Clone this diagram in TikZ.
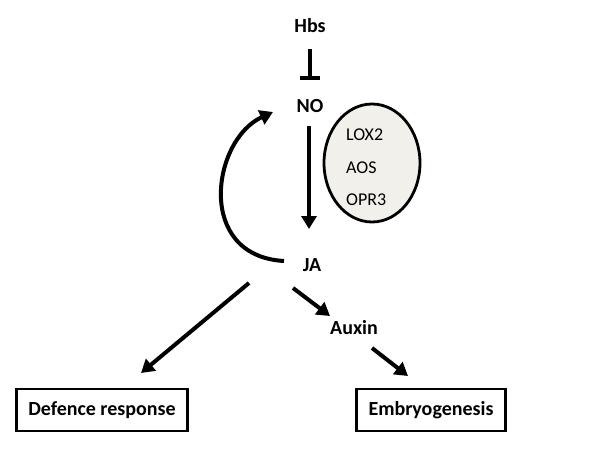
\documentclass[tikz,border=0pt]{standalone}
\usepackage{fontspec}
\setmainfont{Carlito}
\usetikzlibrary{arrows.meta,shapes.geometric}
\definecolor{ellfill}{HTML}{F2F0EA}
\begin{document}
\begin{tikzpicture}[x=1pt,y=-1pt,
  lbl/.style={font=\fontsize{20}{22}\selectfont\bfseries, inner sep=1pt},
  gene/.style={font=\fontsize{18}{20}\selectfont, anchor=west, inner sep=0pt},
  outbox/.style={draw, line width=2.6pt, minimum height=42pt, inner sep=0pt, font=\fontsize{20}{22}\selectfont\bfseries},
  arr/.style={line width=4pt, -{Triangle[length=13pt,width=15pt]}},
  inh/.style={line width=4pt, -{Bar[width=20pt,line width=4pt]}}]
\useasboundingbox (0,0) rectangle (607,450);
\node[lbl] (hbs) at (310,26) {Hbs};
\node[lbl] (no) at (310,106) {NO};
\node[lbl] (ja) at (312,265) {JA};
\node[lbl] (aux) at (354,328) {Auxin};
\node[outbox, minimum width=171pt] (def) at (102,410) {Defence response};
\node[outbox, minimum width=149pt] (emb) at (431,410) {Embryogenesis};
\node[draw, line width=2.8pt, fill=ellfill, ellipse, minimum width=96pt, minimum height=118pt, inner sep=0pt] (ell) at (372,163) {};
\node[gene] (lox) at (346,135) {LOX2};
\node[gene] (aos) at (346,168) {AOS};
\node[gene] (opr) at (346,200) {OPR3};
\coordinate (hbsb) at (310,49);
\coordinate (noT) at (310,80);
\draw[inh] (hbsb) -- (noT);
\coordinate (noB) at (309,126);
\coordinate (jaT) at (309,229);
\draw[arr] (noB) -- (jaT);
\coordinate (jaL) at (284,261);
\coordinate (noL) at (273,112);
\draw[arr] (jaL) .. controls (195,256) and (212,140) .. (noL);
\coordinate (ja1) at (249,283);
\coordinate (def1) at (141,373);
\draw[arr] (ja1) -- (def1);
\coordinate (ja2) at (293,288);
\coordinate (aux1) at (330,316);
\draw[arr] (ja2) -- (aux1);
\coordinate (aux2) at (372,348);
\coordinate (emb1) at (408,376);
\draw[arr] (aux2) -- (emb1);
\end{tikzpicture}
\end{document}
